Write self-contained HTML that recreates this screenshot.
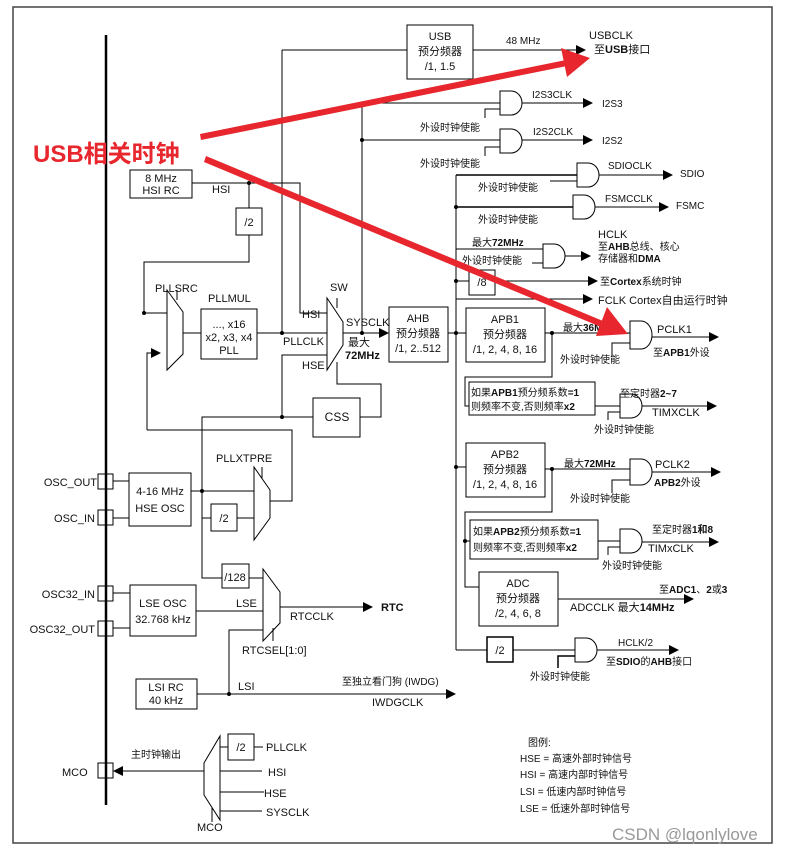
<!DOCTYPE html>
<html><head><meta charset="utf-8"><style>
body{margin:0;background:#fff}
svg{display:block}
text{font-family:"Liberation Sans","Noto Sans CJK SC",sans-serif;font-size:11px;fill:#111}
.b{font-weight:bold}
</style></head><body>
<svg width="787" height="856" viewBox="0 0 787 856" xmlns="http://www.w3.org/2000/svg">
<defs>
<marker id="a" markerWidth="10" markerHeight="10" refX="9" refY="5" orient="auto" markerUnits="userSpaceOnUse"><path d="M0,0 L10,5 L0,10 z" fill="#000"/></marker>
</defs>
<rect x="13" y="7" width="759" height="836" fill="none" stroke="#444" stroke-width="1.5"/>
<line x1="106" y1="35" x2="106" y2="805" stroke="#000" stroke-width="2.5"/>
<g fill="none" stroke="#000" stroke-width="1">
<!-- HSI -->
<rect x="130" y="170" width="62" height="28"/>
<polyline points="192,183 300,183 300,313 327,313"/>
<line x1="249" y1="183" x2="249" y2="208"/>
<rect x="236" y="208" width="26" height="27"/>
<polyline points="249,235 249,262 144,262 144,313 167,313"/>
<!-- PLLSRC mux -->
<path d="M167,290 L183,312 L183,354 L167,370 Z"/>
<line x1="177" y1="300" x2="177" y2="290"/>
<polyline points="147,430 147,353 160,353" marker-end="url(#a)"/>
<line x1="183" y1="333" x2="201" y2="333"/>
<rect x="201" y="309" width="56" height="50"/>
<line x1="257" y1="333" x2="327" y2="333"/>
<line x1="282" y1="50" x2="282" y2="333"/>
<line x1="282" y1="50" x2="407" y2="50"/>
<!-- SW mux -->
<path d="M327,298 L343,322 L343,345 L327,370 Z"/>
<line x1="337" y1="308" x2="337" y2="298"/>
<polyline points="327,355 282,355 282,417 313,417"/>
<polyline points="282,417 202,417 202,578 222,578"/>
<rect x="313" y="398" width="47" height="39"/>
<polyline points="360,417 381,417 381,384 337,384 337,362"/>
<line x1="343" y1="333" x2="388" y2="333" marker-end="url(#a)"/>
<line x1="362" y1="103" x2="362" y2="333"/>
<rect x="389" y="307" width="59" height="55"/>
<line x1="448" y1="333" x2="466" y2="333"/>
<line x1="456" y1="175" x2="456" y2="650"/>
<!-- USB -->
<rect x="407" y="25" width="66" height="54"/>
<line x1="473" y1="50" x2="585" y2="50" marker-end="url(#a)"/>
<!-- I2S -->
<line x1="362" y1="103" x2="500" y2="103"/>
<path d="M500,91 h11 a11,12 0 0 1 0,24 h-11 z"/>
<polyline points="485,118 485,109 500,109"/>
<line x1="522" y1="103" x2="592" y2="103" marker-end="url(#a)"/>
<line x1="362" y1="140" x2="500" y2="140"/>
<path d="M500,129 h11 a11,12 0 0 1 0,24 h-11 z"/>
<polyline points="485,156 485,147 500,147"/>
<line x1="522" y1="140" x2="592" y2="140" marker-end="url(#a)"/>
<!-- SDIO FSMC -->
<line x1="456" y1="175" x2="577" y2="175" stroke-width="1.5"/>
<path d="M577,163 h11 a11,12 0 0 1 0,24 h-11 z"/>
<line x1="550" y1="181" x2="577" y2="181"/>
<line x1="599" y1="175" x2="672" y2="175" marker-end="url(#a)"/>
<line x1="456" y1="207" x2="573" y2="207" stroke-width="1.5"/>
<path d="M573,195 h11 a11,12 0 0 1 0,24 h-11 z"/>
<line x1="595" y1="207" x2="668" y2="207" marker-end="url(#a)"/>
<!-- HCLK -->
<line x1="456" y1="249" x2="543" y2="249"/>
<line x1="532" y1="263" x2="543" y2="263"/>
<path d="M543,244 h11 a11,12 0 0 1 0,24 h-11 z"/>
<line x1="565" y1="256" x2="590" y2="256" marker-end="url(#a)"/>
<line x1="456" y1="281" x2="469" y2="281"/>
<rect x="469" y="270" width="26" height="25"/>
<line x1="495" y1="281" x2="597" y2="281" marker-end="url(#a)"/>
<line x1="456" y1="299" x2="592" y2="299" marker-end="url(#a)"/>
<!-- APB1 -->
<rect x="466" y="308" width="79" height="54"/>
<line x1="545" y1="333" x2="630" y2="333"/>
<path d="M630,321 h11 a11,14 0 0 1 0,28 h-11 z"/>
<polyline points="612,356 612,343 630,343"/>
<line x1="652" y1="337" x2="718" y2="337" marker-end="url(#a)"/>
<polyline points="552,333 552,377 465,377 465,406 469,406"/>
<rect x="469" y="382" width="126" height="33"/>
<line x1="595" y1="406" x2="620" y2="406"/>
<path d="M620,394 h11 a11,12 0 0 1 0,24 h-11 z"/>
<polyline points="608,420 608,412 620,412"/>
<line x1="642" y1="406" x2="716" y2="406" marker-end="url(#a)"/>
<!-- APB2 -->
<line x1="456" y1="467" x2="466" y2="467"/>
<rect x="466" y="443" width="79" height="54"/>
<line x1="545" y1="469" x2="630" y2="469"/>
<path d="M630,459 h11 a11,13 0 0 1 0,26 h-11 z"/>
<polyline points="612,493 612,480 630,480"/>
<line x1="652" y1="472" x2="720" y2="472" marker-end="url(#a)"/>
<polyline points="552,469 552,512 465,512 465,587 479,587"/>
<line x1="465" y1="541" x2="470" y2="541"/>
<rect x="470" y="520" width="128" height="39"/>
<line x1="598" y1="541" x2="620" y2="541"/>
<path d="M620,529 h11 a11,12 0 0 1 0,24 h-11 z"/>
<polyline points="608,555 608,547 620,547"/>
<line x1="642" y1="542" x2="718" y2="542" marker-end="url(#a)"/>
<rect x="479" y="572" width="79" height="54"/>
<line x1="558" y1="599" x2="693" y2="599" marker-end="url(#a)"/>
<!-- HCLK/2 -->
<polyline points="456,650 487,650"/>
<rect x="487" y="637" width="26" height="25" stroke-width="1.5"/>
<line x1="513" y1="650" x2="575" y2="650"/>
<path d="M575,638 h11 a11,12 0 0 1 0,24 h-11 z"/>
<polyline points="558,668 558,656 575,656" stroke-width="1.5"/>
<line x1="597" y1="650" x2="678" y2="650" marker-end="url(#a)"/>
<!-- HSE OSC -->
<rect x="98" y="474" width="15" height="15"/>
<rect x="98" y="510" width="15" height="15"/>
<line x1="113" y1="481" x2="129" y2="481"/>
<line x1="113" y1="518" x2="129" y2="518"/>
<rect x="129" y="473" width="62" height="53"/>
<line x1="191" y1="491" x2="254" y2="491"/>
<polyline points="202,491 202,518 211,518"/>
<rect x="211" y="504" width="26" height="27"/>
<line x1="237" y1="518" x2="254" y2="518"/>
<path d="M254,467 L270,490 L270,518 L254,540 Z"/>
<line x1="262" y1="478" x2="262" y2="467"/>
<polyline points="270,501 292,501 292,430 147,430"/>
<!-- LSE -->
<rect x="98" y="586" width="15" height="15"/>
<rect x="98" y="621" width="15" height="15"/>
<line x1="113" y1="593" x2="130" y2="593"/>
<line x1="113" y1="628" x2="130" y2="628"/>
<rect x="130" y="585" width="66" height="51"/>
<rect x="222" y="564" width="27" height="24"/>
<line x1="249" y1="578" x2="263" y2="578"/>
<line x1="196" y1="611" x2="263" y2="611"/>
<path d="M263,569 L280,592 L280,623 L263,641 Z"/>
<line x1="273" y1="628" x2="273" y2="641"/>
<line x1="280" y1="607" x2="372" y2="607" marker-end="url(#a)"/>
<polyline points="263,630 229,630 229,694"/>
<rect x="136" y="679" width="61" height="30"/>
<line x1="197" y1="694" x2="455" y2="694" marker-end="url(#a)"/>
<!-- MCO -->
<rect x="98" y="763" width="15" height="15"/>
<line x1="204" y1="771" x2="114" y2="771" marker-end="url(#a)"/>
<path d="M204,763 L220,736 L220,820 L204,795 Z"/>
<line x1="212" y1="808" x2="212" y2="822"/>
<line x1="220" y1="747" x2="228" y2="747"/>
<rect x="228" y="734" width="26" height="26"/>
<line x1="254" y1="747" x2="263" y2="747"/>
<line x1="220" y1="771" x2="262" y2="771"/>
<line x1="220" y1="792" x2="264" y2="792"/>
<line x1="220" y1="811" x2="262" y2="811"/>
</g>
<g fill="#000">
<circle cx="249" cy="183" r="2"/><circle cx="144" cy="313" r="2"/><circle cx="282" cy="333" r="2"/>
<circle cx="362" cy="333" r="2"/><circle cx="282" cy="417" r="2"/><circle cx="456" cy="333" r="2"/>
<circle cx="362" cy="140" r="2"/><circle cx="456" cy="207" r="2"/><circle cx="456" cy="281" r="2"/>
<circle cx="552" cy="333" r="2"/><circle cx="456" cy="467" r="2"/><circle cx="552" cy="469" r="2"/>
<circle cx="465" cy="541" r="2"/><circle cx="202" cy="491" r="2"/><circle cx="229" cy="694" r="2"/>
</g>
<!-- texts -->
<text x="161" y="182" text-anchor="middle">8 MHz</text><text x="161" y="194" text-anchor="middle">HSI RC</text>
<text x="212" y="193">HSI</text>
<text x="249" y="226" text-anchor="middle">/2</text>
<text x="155" y="292">PLLSRC</text><text x="208" y="302">PLLMUL</text>
<text x="229" y="328" text-anchor="middle">..., x16</text><text x="229" y="341" text-anchor="middle">x2, x3, x4</text><text x="229" y="354" text-anchor="middle">PLL</text>
<text x="302" y="318">HSI</text><text x="283" y="345">PLLCLK</text><text x="302" y="369">HSE</text>
<text x="330" y="291">SW</text><text x="346" y="326">SYSCLK</text><text x="348" y="346">最大</text><text x="345" y="359" class="b">72MHz</text>
<text x="337" y="421" text-anchor="middle" style="font-size:12px">CSS</text>
<text x="418" y="322" text-anchor="middle">AHB</text><text x="418" y="337" text-anchor="middle">预分频器</text><text x="418" y="352" text-anchor="middle">/1, 2..512</text>
<text x="440" y="40" text-anchor="middle">USB</text><text x="440" y="55" text-anchor="middle">预分频器</text><text x="440" y="70" text-anchor="middle">/1, 1.5</text>
<text x="506" y="44" style="font-size:10px">48 MHz</text><text x="589" y="39">USBCLK</text><text x="594" y="53">至<tspan class="b">USB</tspan>接口</text>
<text x="532" y="98" style="font-size:10px">I2S3CLK</text><text x="602" y="107" style="font-size:10px">I2S3</text>
<text x="420" y="131" style="font-size:10px">外设时钟使能</text>
<text x="533" y="135" style="font-size:10px">I2S2CLK</text><text x="602" y="144" style="font-size:10px">I2S2</text>
<text x="420" y="167" style="font-size:10px">外设时钟使能</text>
<text x="608" y="169" style="font-size:10px">SDIOCLK</text><text x="680" y="177" style="font-size:10px">SDIO</text>
<text x="478" y="191" style="font-size:10px">外设时钟使能</text>
<text x="605" y="202" style="font-size:10px">FSMCCLK</text><text x="676" y="209" style="font-size:10px">FSMC</text>
<text x="478" y="223" style="font-size:10px">外设时钟使能</text>
<text x="472" y="246" style="font-size:10px">最大<tspan class="b">72MHz</tspan></text>
<text x="462" y="264" style="font-size:10px">外设时钟使能</text>
<text x="598" y="238">HCLK</text><text x="598" y="250" style="font-size:10px">至<tspan class="b">AHB</tspan>总线、核心</text><text x="598" y="262" style="font-size:10px">存储器和<tspan class="b">DMA</tspan></text>
<text x="482" y="286" text-anchor="middle">/8</text>
<text x="600" y="285" style="font-size:10px">至<tspan class="b">Cortex</tspan>系统时钟</text>
<text x="598" y="304">FCLK Cortex自由运行时钟</text>
<text x="505" y="323" text-anchor="middle">APB1</text><text x="505" y="338" text-anchor="middle">预分频器</text><text x="505" y="353" text-anchor="middle">/1, 2, 4, 8, 16</text>
<text x="563" y="331" style="font-size:10px">最大<tspan class="b">36MHz</tspan></text>
<text x="657" y="333">PCLK1</text><text x="653" y="356" style="font-size:10px">至<tspan class="b">APB1</tspan>外设</text>
<text x="560" y="363" style="font-size:10px">外设时钟使能</text>
<text x="471" y="396" style="font-size:10px">如果<tspan class="b">APB1</tspan>预分频系数<tspan class="b">=1</tspan></text>
<text x="471" y="410" style="font-size:10px">则频率不变,否则频率<tspan class="b">x2</tspan></text>
<text x="620" y="397" style="font-size:10px">至定时器<tspan class="b">2~7</tspan></text><text x="652" y="416">TIMXCLK</text>
<text x="594" y="433" style="font-size:10px">外设时钟使能</text>
<text x="505" y="458" text-anchor="middle">APB2</text><text x="505" y="473" text-anchor="middle">预分频器</text><text x="505" y="488" text-anchor="middle">/1, 2, 4, 8, 16</text>
<text x="564" y="467" style="font-size:10px">最大<tspan class="b">72MHz</tspan></text>
<text x="655" y="468">PCLK2</text><text x="654" y="486" style="font-size:10px"><tspan class="b">APB2</tspan>外设</text>
<text x="570" y="502" style="font-size:10px">外设时钟使能</text>
<text x="473" y="535" style="font-size:10px">如果<tspan class="b">APB2</tspan>预分频系数<tspan class="b">=1</tspan></text>
<text x="473" y="551" style="font-size:10px">则频率不变,否则频率<tspan class="b">x2</tspan></text>
<text x="652" y="533" style="font-size:10px">至定时器<tspan class="b">1和8</tspan></text><text x="648" y="552">TIMxCLK</text>
<text x="602" y="569" style="font-size:10px">外设时钟使能</text>
<text x="518" y="587" text-anchor="middle">ADC</text><text x="518" y="602" text-anchor="middle">预分频器</text><text x="518" y="617" text-anchor="middle">/2, 4, 6, 8</text>
<text x="659" y="593" style="font-size:10px">至<tspan class="b">ADC1</tspan>、<tspan class="b">2</tspan>或<tspan class="b">3</tspan></text>
<text x="570" y="611">ADCCLK  最大<tspan class="b">14MHz</tspan></text>
<text x="500" y="654" text-anchor="middle">/2</text>
<text x="618" y="646" style="font-size:10px">HCLK/2</text><text x="606" y="665" style="font-size:10px">至<tspan class="b">SDIO</tspan>的<tspan class="b">AHB</tspan>接口</text>
<text x="530" y="680" style="font-size:10px">外设时钟使能</text>
<text x="97" y="486" text-anchor="end">OSC_OUT</text><text x="95" y="522" text-anchor="end">OSC_IN</text>
<text x="160" y="495" text-anchor="middle">4-16 MHz</text><text x="160" y="512" text-anchor="middle">HSE OSC</text>
<text x="224" y="522" text-anchor="middle">/2</text><text x="216" y="462">PLLXTPRE</text>
<text x="95" y="598" text-anchor="end">OSC32_IN</text><text x="95" y="633" text-anchor="end">OSC32_OUT</text>
<text x="163" y="607" text-anchor="middle">LSE OSC</text><text x="163" y="623" text-anchor="middle">32.768 kHz</text>
<text x="235" y="581" text-anchor="middle">/128</text><text x="236" y="607">LSE</text>
<text x="290" y="620">RTCCLK</text><text x="381" y="611" class="b">RTC</text><text x="242" y="654">RTCSEL[1:0]</text>
<text x="166" y="691" text-anchor="middle">LSI RC</text><text x="166" y="704" text-anchor="middle">40 kHz</text>
<text x="238" y="690">LSI</text><text x="342" y="685" style="font-size:10px">至独立看门狗  (IWDG)</text><text x="372" y="706">IWDGCLK</text>
<text x="62" y="776">MCO</text><text x="131" y="758" style="font-size:10px">主时钟输出</text>
<text x="241" y="751" text-anchor="middle">/2</text>
<text x="266" y="751">PLLCLK</text><text x="268" y="776">HSI</text><text x="264" y="797">HSE</text><text x="266" y="816">SYSCLK</text>
<text x="197" y="831">MCO</text>
<text x="528" y="746" style="font-size:10px">图例:</text>
<text x="520" y="762" style="font-size:10px">HSE = 高速外部时钟信号</text>
<text x="520" y="778" style="font-size:10px">HSI = 高速内部时钟信号</text>
<text x="520" y="795" style="font-size:10px">LSI = 低速内部时钟信号</text>
<text x="520" y="812" style="font-size:10px">LSE = 低速外部时钟信号</text>
<text x="612" y="840" style="font-size:17px;fill:#999">CSDN @lqonlylove</text>
<!-- red annotations -->
<text x="33" y="162" style="font-size:24px;font-weight:bold;fill:#e8262d">USB相关时钟</text>
<g fill="#e8262d" stroke="none">
<path d="M200,134 L566,60 L567,66 L201,140 Z"/>
<path d="M590,58 L561,48 L567,77 Z"/>
<path d="M206,156 L603,321 L601,327 L204,162 Z"/>
<path d="M628,334 L607,307 L596,336 Z"/>
</g>
</svg>
</body></html>
